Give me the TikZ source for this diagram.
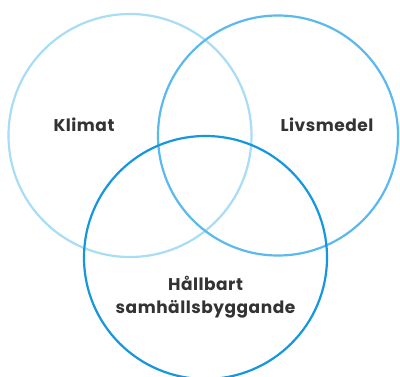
\documentclass[tikz,border=0pt]{standalone}
\usepackage{fontspec}
\setmainfont{Poppins}[LetterSpace=3]
\definecolor{cA}{HTML}{A9DDF6}
\definecolor{cB}{HTML}{5CB9EE}
\definecolor{cC}{HTML}{1597E0}
\definecolor{txt}{HTML}{333333}
\begin{document}
\begin{tikzpicture}[x=1pt,y=1pt,
  ring/.style={line width=2.2pt},
  lbl/.style={text=txt,font=\fontsize{17}{23}\selectfont\bfseries,align=center,inner sep=0pt}]
\useasboundingbox (0,0) rectangle (400,376);
\clip (0,0) rectangle (400,376);
\fill[white] (0,0) rectangle (400,376);
\draw[ring,cA] (130,240.5) circle[radius=121.5];
\draw[ring,cB] (278,240.5) circle[radius=120];
\draw[ring,cC] (205.5,118.5) circle[radius=121.5];
\node[lbl] (klimat) at (84,251) {Klimat};
\node[lbl] (livs) at (327,251) {Livsmedel};
\node[lbl] (hall) at (205.5,78.5) {Hållbart\\samhällsbyggande};
\end{tikzpicture}
\end{document}
